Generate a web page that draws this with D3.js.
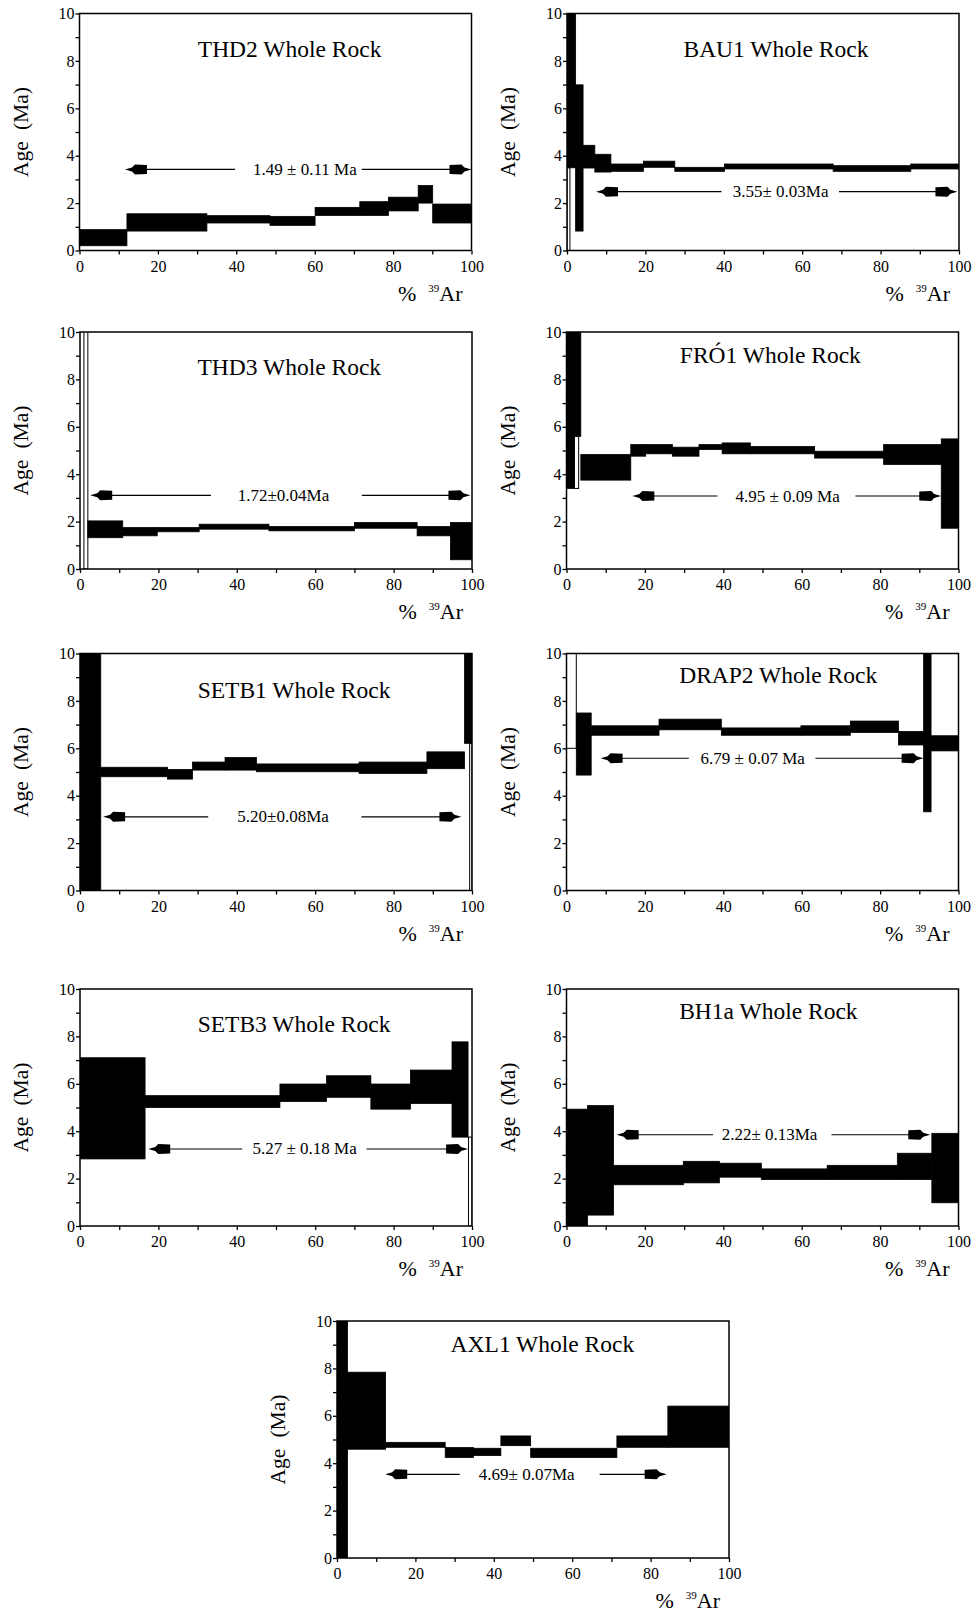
<!DOCTYPE html>
<html>
<head>
<meta charset="utf-8">
<script src="https://cdn.jsdelivr.net/npm/d3@7"></script>
<style>
  html, body { margin: 0; padding: 0; background: #fff; }
  svg { display: block; }
  text { font-family: "Liberation Serif", "DejaVu Serif", serif; fill: #000; }
</style>
</head>
<body>
<div id="chart"></div>
<script>
// ---- DATA: each step = [cum %39Ar start, cum %39Ar end, age low (Ma), age high (Ma)] ----
const THD2_steps = [
  [0, 12.1, 0.20, 0.88], [12.1, 32.5, 0.82, 1.55], [32.5, 48.6, 1.16, 1.47],
  [48.6, 60.1, 1.06, 1.44], [60.1, 71.5, 1.48, 1.82], [71.5, 78.8, 1.48, 2.06],
  [78.8, 86.4, 1.67, 2.25], [86.4, 90.1, 2.00, 2.74], [90.1, 100, 1.16, 1.96]
];
const THD2_open = [];
const BAU1_steps = [
  [0, 2.2, 3.49, 12], [2.2, 4.1, 0.82, 6.99], [4.1, 7.1, 3.48, 4.44],
  [7.1, 11.2, 3.31, 4.06], [11.2, 19.5, 3.34, 3.65], [19.5, 27.5, 3.51, 3.77],
  [27.5, 40.2, 3.34, 3.51], [40.2, 67.9, 3.44, 3.65], [67.9, 87.7, 3.34, 3.58],
  [87.7, 100, 3.44, 3.65]
];
const BAU1_open = [[0, 0.75, 0, 3.49]];
const THD3_steps = [
  [2.0, 10.9, 1.32, 2.03], [10.9, 19.7, 1.40, 1.75], [19.7, 30.4, 1.57, 1.75],
  [30.4, 48.2, 1.68, 1.89], [48.2, 70.0, 1.61, 1.79], [70.0, 86.0, 1.72, 1.96],
  [86.0, 94.5, 1.40, 1.79], [94.5, 100, 0.39, 1.96]
];
const THD3_open = [[1.0, 2.0, 0, 12]];
const FRO1_steps = [
  [0, 2.0, 3.40, 12], [2.0, 3.65, 5.60, 12], [3.65, 16.4, 3.75, 4.83],
  [16.4, 20.2, 4.76, 5.25], [20.2, 27.0, 4.86, 5.25], [27.0, 33.8, 4.76, 5.14],
  [33.8, 39.7, 5.04, 5.25], [39.7, 46.9, 4.86, 5.32], [46.9, 63.3, 4.86, 5.17],
  [63.3, 80.9, 4.68, 4.97], [80.9, 95.6, 4.41, 5.25], [95.6, 100, 1.72, 5.49]
];
const FRO1_open = [[2.0, 3.1, 3.40, 5.60]];
const SETB1_steps = [
  [0, 5.3, -1, 12], [5.3, 22.3, 4.80, 5.20], [22.3, 28.7, 4.70, 5.11],
  [28.7, 37.0, 5.08, 5.42], [37.0, 45.0, 5.08, 5.61], [45.0, 71.2, 5.01, 5.34],
  [71.2, 88.5, 4.94, 5.42], [88.5, 98.1, 5.14, 5.85], [98.1, 100, 6.21, 12]
];
const SETB1_open = [[99.4, 100, 0, 6.21]];
const DRAP2_steps = [
  [2.5, 6.3, 4.87, 7.49], [6.3, 23.6, 6.55, 6.95], [23.6, 39.5, 6.78, 7.23],
  [39.5, 59.8, 6.55, 6.86], [59.8, 72.4, 6.55, 6.95], [72.4, 84.7, 6.67, 7.15],
  [84.7, 91.1, 6.14, 6.71], [91.1, 93.0, 3.32, 12], [93.0, 100, 5.89, 6.53]
];
const DRAP2_open = [[0, 2.5, 6.0, 12]];
const SETB3_steps = [
  [0, 16.6, 2.83, 7.10], [16.6, 51.0, 5.00, 5.50], [51.0, 62.9, 5.25, 5.99],
  [62.9, 74.2, 5.43, 6.34], [74.2, 84.3, 4.93, 5.99], [84.3, 94.9, 5.17, 6.58],
  [94.9, 99.0, 3.75, 7.77]
];
const SETB3_open = [[99.1, 100, 0, 3.75]];
const BH1a_steps = [
  [0, 5.35, 0, 4.93], [5.35, 12.0, 0.46, 5.08], [12.0, 29.8, 1.74, 2.56],
  [29.8, 39.0, 1.82, 2.73], [39.0, 49.7, 2.06, 2.65], [49.7, 66.5, 1.96, 2.41],
  [66.5, 84.4, 1.96, 2.56], [84.4, 93.2, 1.96, 3.07], [93.2, 100, 0.98, 3.91]
];
const BH1a_open = [];
const AXL1_steps = [
  [0, 2.7, -1, 12], [2.7, 12.4, 4.59, 7.84], [12.4, 27.6, 4.67, 4.88],
  [27.6, 34.8, 4.24, 4.66], [34.8, 41.8, 4.32, 4.63], [41.8, 49.4, 4.74, 5.15],
  [49.4, 71.4, 4.24, 4.63], [71.4, 84.4, 4.67, 5.15], [84.4, 100, 4.67, 6.41]
];
const AXL1_open = [];

// plateau: [arrow age (Ma), from %, gap start %, gap end %, to %, label centre %]
const plateauLabels = ["1.49 ± 0.11 Ma", "3.55± 0.03Ma", "1.72±0.04Ma", "4.95 ± 0.09 Ma",
  "5.20±0.08Ma", "6.79 ± 0.07 Ma", "5.27 ± 0.18 Ma", "2.22± 0.13Ma", "4.69± 0.07Ma"];
const plateaus = [
  [3.42, 11.6, 39.7, 72.0, 100, 57.5],
  [2.48, 7.4, 39.4, 69.4, 99.6, 54.5],
  [3.11, 2.6, 33.4, 71.9, 99.6, 51.9],
  [3.08, 16.8, 38.5, 73.7, 95.6, 56.4],
  [3.11, 5.9, 32.7, 71.8, 97.3, 51.8],
  [5.58, 8.7, 31.2, 63.5, 91.1, 47.5],
  [3.25, 17.4, 41.4, 73.1, 99.0, 57.3],
  [3.85, 12.8, 37.4, 67.6, 92.8, 51.8],
  [3.53, 12.3, 31.3, 67.0, 84.1, 48.4]
];
const sampleNames = ["THD2", "BAU1", "THD3", "FRÓ1", "SETB1", "DRAP2", "SETB3", "BH1a", "AXL1"];
const stepSets = [THD2_steps, BAU1_steps, THD3_steps, FRO1_steps, SETB1_steps, DRAP2_steps, SETB3_steps, BH1a_steps, AXL1_steps];
const openSets = [THD2_open, BAU1_open, THD3_open, FRO1_open, SETB1_open, DRAP2_open, SETB3_open, BH1a_open, AXL1_open];
const xTicks = [0, 10, 20, 30, 40, 50, 60, 70, 80, 90, 100];
const yTicks = [0, 1, 2, 3, 4, 5, 6, 7, 8, 9, 10];

// ---- LAYOUT ----
const W = 978, H = 1613;
const PW = 392, PH = 237;
const layout = [
  {left: 79.5, top: 13.5, tx: 0.536, ty: 43},
  {left: 567, top: 13.5, tx: 0.533, ty: 43},
  {left: 80, top: 332, tx: 0.534, ty: 43},
  {left: 566.5, top: 332, tx: 0.52, ty: 31},
  {left: 80, top: 653.5, tx: 0.546, ty: 44},
  {left: 566.5, top: 653.5, tx: 0.54, ty: 29},
  {left: 80, top: 989, tx: 0.546, ty: 43},
  {left: 566.5, top: 989, tx: 0.515, ty: 30},
  {left: 337, top: 1321, tx: 0.524, ty: 31}
];

const svg = d3.select("#chart").append("svg").attr("width", W).attr("height", H);

const arrowPath = "M0,0 L7,-2 L10,-5 L22,-4.5 L22,4.5 L10,5 L7,2 Z";

sampleNames.forEach((name, i) => {
  const L = layout[i];
  const g = svg.append("g").attr("transform", `translate(${L.left},${L.top})`);
  const x = d3.scaleLinear().domain([0, 100]).range([0, PW]);
  const y = d3.scaleLinear().domain([0, 10]).range([PH, 0]);

  const clipId = "clip" + i;
  g.append("clipPath").attr("id", clipId).append("rect")
    .attr("x", 0).attr("y", 0).attr("width", PW).attr("height", PH);
  const plot = g.append("g").attr("clip-path", `url(#${clipId})`);

  plot.selectAll("rect.open").data(openSets[i]).join("rect").attr("class", "open")
    .attr("x", d => x(d[0])).attr("width", d => x(d[1]) - x(d[0]))
    .attr("y", d => y(d[3])).attr("height", d => y(d[2]) - y(d[3]))
    .attr("fill", "none").attr("stroke", "#000").attr("stroke-width", 1);

  plot.selectAll("rect.step").data(stepSets[i]).join("rect").attr("class", "step")
    .attr("x", d => x(d[0])).attr("width", d => x(d[1]) - x(d[0]))
    .attr("y", d => y(d[3])).attr("height", d => y(d[2]) - y(d[3]))
    .attr("fill", "#000").attr("stroke", "#000").attr("stroke-width", 0.8);

  // plateau arrow
  const p = plateaus[i];
  const ay = y(p[0]);
  g.append("line").attr("x1", x(p[1]) + 4).attr("x2", x(p[2])).attr("y1", ay).attr("y2", ay)
    .attr("stroke", "#000").attr("stroke-width", 1.2);
  g.append("line").attr("x1", x(p[3])).attr("x2", x(p[4]) - 4).attr("y1", ay).attr("y2", ay)
    .attr("stroke", "#000").attr("stroke-width", 1.2);
  g.append("path").attr("d", arrowPath).attr("transform", `translate(${x(p[1])},${ay})`).attr("fill", "#000");
  g.append("path").attr("d", arrowPath).attr("transform", `translate(${x(p[4])},${ay}) scale(-1,1)`).attr("fill", "#000");
  g.append("text").attr("x", x(p[5])).attr("y", ay + 5.5).attr("text-anchor", "middle")
    .style("font-size", "17px").style("white-space", "pre").text(plateauLabels[i]);

  // frame
  g.append("rect").attr("x", 0).attr("y", 0).attr("width", PW).attr("height", PH)
    .attr("fill", "none").attr("stroke", "#000").attr("stroke-width", 1.5);

  // axes
  const ya = g.append("g").call(d3.axisLeft(y).tickValues(yTicks).tickSize(4).tickPadding(1)
    .tickFormat(d => d % 2 === 0 ? d : ""));
  const xa = g.append("g").attr("transform", `translate(0,${PH})`)
    .call(d3.axisBottom(x).tickValues(xTicks).tickSize(4).tickPadding(6)
    .tickFormat(d => d % 20 === 0 ? d : ""));
  [ya, xa].forEach(a => {
    a.select(".domain").remove();
    a.selectAll("line").attr("stroke", "#000").attr("stroke-width", 1.3);
    a.selectAll("text").style("font-size", "16px").style("font-family", "'Liberation Serif', serif");
  });

  // title
  g.append("text").attr("x", PW * L.tx).attr("y", L.ty).attr("text-anchor", "middle")
    .style("font-size", "23.5px").text(name + " Whole Rock");

  // y label
  const yl = g.append("text").attr("transform", `translate(-52,${PH / 2}) rotate(-90)`)
    .attr("text-anchor", "middle").style("font-size", "21.5px");
  yl.append("tspan").text("Age");
  yl.append("tspan").attr("dx", 11).text("(Ma)");

  // x label
  const xl = g.append("text").attr("x", PW - 9).attr("y", PH + 50).attr("text-anchor", "end")
    .style("font-size", "22px");
  xl.append("tspan").text("%");
  xl.append("tspan").attr("dx", 12).attr("dy", -9).style("font-size", "11px").text("39");
  xl.append("tspan").attr("dy", 9).text("Ar");
});
</script>
</body>
</html>
